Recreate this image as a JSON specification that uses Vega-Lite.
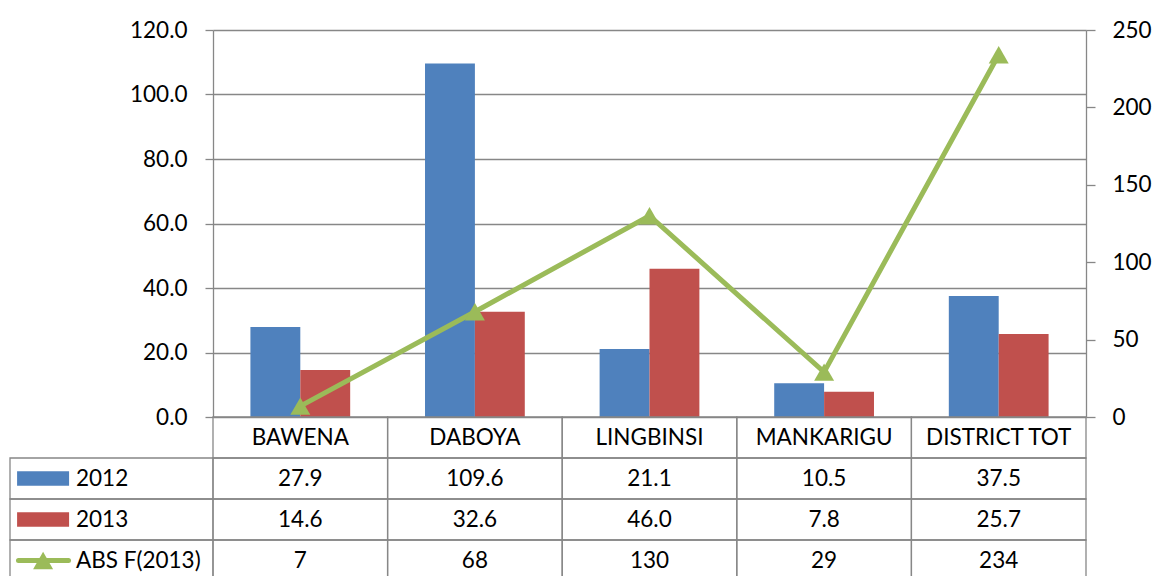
{
  "$schema": "https://vega.github.io/schema/vega-lite/v6.json",
  "autosize": {"type": "pad"},
  "padding": {"left": 8, "top": 19, "right": 5, "bottom": 0},
  "config": {
    "view": {"stroke": null},
    "font": "Lato",
    "text": {"font": "Lato", "fontSize": 22.5, "color": "#000000"}
  },
  "datasets": {
    "bars": [
      {"cat": "BAWENA", "year": "2012", "value": 27.9},
      {"cat": "DABOYA", "year": "2012", "value": 109.6},
      {"cat": "LINGBINSI", "year": "2012", "value": 21.1},
      {"cat": "MANKARIGU", "year": "2012", "value": 10.5},
      {"cat": "DISTRICT TOT", "year": "2012", "value": 37.5},
      {"cat": "BAWENA", "year": "2013", "value": 14.6},
      {"cat": "DABOYA", "year": "2013", "value": 32.6},
      {"cat": "LINGBINSI", "year": "2013", "value": 46.0},
      {"cat": "MANKARIGU", "year": "2013", "value": 7.8},
      {"cat": "DISTRICT TOT", "year": "2013", "value": 25.7}
    ],
    "abs": [
      {"cat": "BAWENA", "abs": 7},
      {"cat": "DABOYA", "abs": 68},
      {"cat": "LINGBINSI", "abs": 130},
      {"cat": "MANKARIGU", "abs": 29},
      {"cat": "DISTRICT TOT", "abs": 234}
    ],
    "series": [
      {"series": "2012"},
      {"series": "2013"},
      {"series": "ABS F(2013)"}
    ]
  },
  "columns": 2,
  "spacing": 0,
  "bounds": "flush",
  "resolve": {"scale": {"x": "independent", "y": "independent", "color": "independent", "shape": "independent"}},
  "concat": [
    {
      "width": 203,
      "height": 387,
      "data": {"values": [{}]},
      "mark": {"type": "text"},
      "encoding": {"text": {"value": ""}}
    },
    {
      "width": 873,
      "height": 387,
      "layer": [
        {
          "data": {"name": "bars"},
          "mark": {"type": "bar"},
          "encoding": {
            "x": {"field": "cat", "type": "nominal", "sort": null,
                  "scale": {"domain": ["BAWENA", "DABOYA", "LINGBINSI", "MANKARIGU", "DISTRICT TOT"], "paddingInner": 0, "paddingOuter": 0},
                  "axis": null},
            "xOffset": {"field": "year", "type": "nominal",
                        "scale": {"domain": ["2012", "2013"], "paddingInner": 0, "paddingOuter": 0.75}},
            "y": {"field": "value", "type": "quantitative",
                  "scale": {"domain": [0, 120], "nice": false},
                  "axis": {"values": [0, 20, 40, 60, 80, 100, 120], "format": ".1f", "title": null,
                           "grid": true, "gridColor": "#878787", "gridWidth": 1.3,
                           "domainColor": "#878787", "domainWidth": 1.3,
                           "tickColor": "#878787", "tickWidth": 1.3, "tickSize": 8,
                           "labelPadding": 18, "labelFontSize": 22.5, "labelColor": "#000000", "labelFont": "Lato"}},
            "color": {"field": "year", "type": "nominal",
                      "scale": {"domain": ["2012", "2013"], "range": ["#4F81BD", "#C0504D"]},
                      "legend": null}
          }
        },
        {
          "data": {"name": "abs"},
          "layer": [
            {
              "mark": {"type": "line", "color": "#9BBB59", "strokeWidth": 5},
              "encoding": {
                "x": {"field": "cat", "type": "nominal", "sort": null},
                "y": {"field": "abs", "type": "quantitative",
                      "scale": {"domain": [0, 250], "nice": false},
                      "axis": {"orient": "right", "values": [0, 50, 100, 150, 200, 250], "title": null,
                               "grid": false,
                               "domainColor": "#878787", "domainWidth": 1.3,
                               "tickColor": "#878787", "tickWidth": 1.3, "tickSize": 9,
                               "labelPadding": 17, "labelFontSize": 22.5, "labelColor": "#000000", "labelFont": "Lato"}}
              }
            },
            {
              "mark": {"type": "point", "shape": "triangle-up", "filled": true, "color": "#9BBB59", "size": 400, "opacity": 1},
              "encoding": {
                "x": {"field": "cat", "type": "nominal", "sort": null},
                "y": {"field": "abs", "type": "quantitative"}
              }
            }
          ]
        }
      ],
      "resolve": {"scale": {"y": "independent"}}
    },
    {
      "width": 203,
      "height": 164,
      "data": {"name": "series"},
      "layer": [
        {
          "mark": {"type": "rect", "fill": "transparent", "stroke": "#878787", "strokeWidth": 1.3},
          "encoding": {
            "y": {"field": "series", "type": "nominal",
                  "scale": {"domain": ["cat", "2012", "2013", "ABS F(2013)"], "paddingInner": 0, "paddingOuter": 0},
                  "axis": null},
            "x": {"datum": 0, "type": "quantitative", "scale": {"domain": [0, 1], "nice": false}, "axis": null},
            "x2": {"datum": 1}
          }
        },
        {
          "transform": [{"filter": "datum.series !== 'ABS F(2013)'"}],
          "mark": {"type": "point", "shape": "M-1,-0.275H1V0.275H-1Z", "filled": true, "size": 2704, "opacity": 1},
          "encoding": {
            "y": {"field": "series", "type": "nominal"},
            "x": {"datum": 0.163, "type": "quantitative"},
            "color": {"field": "series", "type": "nominal",
                      "scale": {"domain": ["2012", "2013", "ABS F(2013)"], "range": ["#4F81BD", "#C0504D", "#9BBB59"]},
                      "legend": null}
          }
        },
        {
          "transform": [{"filter": "datum.series === 'ABS F(2013)'"}],
          "mark": {"type": "point", "shape": "M-1,0H1", "filled": false, "size": 2500, "strokeWidth": 5, "strokeCap": "round", "color": "#9BBB59", "opacity": 1},
          "encoding": {
            "y": {"field": "series", "type": "nominal"},
            "x": {"datum": 0.165, "type": "quantitative"}
          }
        },
        {
          "transform": [{"filter": "datum.series === 'ABS F(2013)'"}],
          "mark": {"type": "point", "shape": "triangle-up", "filled": true, "size": 400, "color": "#9BBB59", "opacity": 1},
          "encoding": {
            "y": {"field": "series", "type": "nominal"},
            "x": {"datum": 0.163, "type": "quantitative"}
          }
        },
        {
          "mark": {"type": "text", "align": "left", "fontSize": 22.5, "color": "#000000"},
          "encoding": {
            "y": {"field": "series", "type": "nominal"},
            "x": {"datum": 0.325, "type": "quantitative"},
            "text": {"field": "series"}
          }
        }
      ]
    },
    {
      "width": 873,
      "height": 164,
      "layer": [
        {
          "data": {"name": "bars"},
          "layer": [
            {
              "mark": {"type": "rect", "fill": "transparent", "stroke": "#878787", "strokeWidth": 1.3},
              "encoding": {
                "x": {"field": "cat", "type": "nominal", "sort": null,
                      "scale": {"domain": ["BAWENA", "DABOYA", "LINGBINSI", "MANKARIGU", "DISTRICT TOT"], "paddingInner": 0, "paddingOuter": 0},
                      "axis": null},
                "y": {"field": "year", "type": "nominal",
                      "scale": {"domain": ["cat", "2012", "2013", "ABS F(2013)"], "paddingInner": 0, "paddingOuter": 0},
                      "axis": null}
              }
            },
            {
              "mark": {"type": "text", "fontSize": 22.5, "color": "#000000"},
              "encoding": {
                "x": {"field": "cat", "type": "nominal", "sort": null},
                "y": {"field": "year", "type": "nominal"},
                "text": {"field": "value", "type": "quantitative", "format": ".1f"}
              }
            }
          ]
        },
        {
          "data": {"name": "abs"},
          "layer": [
            {
              "mark": {"type": "rect", "fill": "transparent", "stroke": "#878787", "strokeWidth": 1.3},
              "encoding": {
                "x": {"field": "cat", "type": "nominal", "sort": null},
                "y": {"datum": "ABS F(2013)", "type": "nominal"}
              }
            },
            {
              "mark": {"type": "text", "fontSize": 22.5, "color": "#000000"},
              "encoding": {
                "x": {"field": "cat", "type": "nominal", "sort": null},
                "y": {"datum": "ABS F(2013)", "type": "nominal"},
                "text": {"field": "abs", "type": "quantitative", "format": "d"}
              }
            },
            {
              "mark": {"type": "rect", "fill": "transparent", "stroke": "#878787", "strokeWidth": 1.3},
              "encoding": {
                "x": {"field": "cat", "type": "nominal", "sort": null},
                "y": {"datum": "cat", "type": "nominal"}
              }
            },
            {
              "mark": {"type": "text", "fontSize": 22.5, "color": "#000000"},
              "encoding": {
                "x": {"field": "cat", "type": "nominal", "sort": null},
                "y": {"datum": "cat", "type": "nominal"},
                "text": {"field": "cat", "type": "nominal"}
              }
            }
          ]
        }
      ]
    }
  ]
}
